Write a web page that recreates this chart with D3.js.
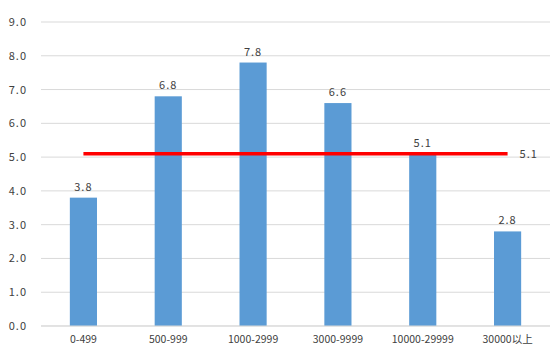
<!DOCTYPE html>
<html>
<head>
<meta charset="utf-8">
<script src="https://cdn.jsdelivr.net/npm/d3@7"></script>
<style>
  body { margin: 0; background: #fff; }
  text { font-family: "Noto Sans CJK SC", "Noto Sans", sans-serif; fill: #404040; }
</style>
</head>
<body>
<div id="svganchor"></div>
<script>
let width = 554;
let height = 352;
let margin = { top: 22, right: 4, bottom: 26, left: 41 };

// data
let categories = ["0-499", "500-999", "1000-2999", "3000-9999", "10000-29999", "30000以上"];
let values = [3.8, 6.8, 7.8, 6.6, 5.1, 2.8];
let avgValue = 5.1;
let yTicks = [0, 1, 2, 3, 4, 5, 6, 7, 8, 9];

let svg = d3.select("#svganchor").append("svg").attr("width", width).attr("height", height);

let xScale = d3.scaleBand()
  .domain(categories)
  .range([margin.left, width - margin.right])
  .paddingInner(0.68)
  .paddingOuter(0.34);

let yScale = d3.scaleLinear().domain([0, 9]).range([height - margin.bottom, margin.top]);

// gridlines
svg.append("g")
  .selectAll("line")
  .data(yTicks)
  .enter()
  .append("line")
  .attr("x1", margin.left)
  .attr("x2", width - margin.right)
  .attr("y1", d => yScale(d))
  .attr("y2", d => yScale(d))
  .attr("stroke", "#d9d9d9")
  .attr("stroke-width", 1);

// y axis labels
let yAxis = d3.axisLeft(yScale).tickValues(yTicks).tickFormat(d3.format(".1f")).tickSize(0).tickPadding(14);
let gy = svg.append("g").attr("transform", "translate(" + margin.left + ",0)").call(yAxis);
gy.select(".domain").remove();
gy.selectAll("text").style("font-size", "11px").attr("letter-spacing", "1px").attr("fill", "#404040");

// bars
svg.selectAll(".bar")
  .data(values)
  .enter()
  .append("rect")
  .attr("class", "bar")
  .attr("x", (d, i) => xScale(categories[i]))
  .attr("y", d => yScale(d))
  .attr("width", xScale.bandwidth())
  .attr("height", d => yScale(0) - yScale(d))
  .attr("fill", "#5b9bd5");

// bar labels
svg.selectAll(".bar-label")
  .data(values)
  .enter()
  .append("text")
  .attr("class", "bar-label")
  .attr("x", (d, i) => xScale(categories[i]) + xScale.bandwidth() / 2)
  .attr("y", d => yScale(d) - 7)
  .attr("text-anchor", "middle")
  .attr("letter-spacing", "1px")
  .style("font-size", "11px")
  .text(d => d.toFixed(1));

// x axis
let xAxis = d3.axisBottom(xScale).tickSize(0).tickPadding(10);
let gx = svg.append("g").attr("transform", "translate(0," + yScale(0) + ")").call(xAxis);
gx.select(".domain").attr("stroke", "#d9d9d9").attr("d", "M" + margin.left + ",0H" + (width - margin.right));
gx.selectAll("text").style("font-size", "10.5px").attr("fill", "#404040");

// average line
let firstC = xScale(categories[0]) + xScale.bandwidth() / 2;
let lastC = xScale(categories[categories.length - 1]) + xScale.bandwidth() / 2;
svg.append("line")
  .attr("x1", firstC)
  .attr("x2", lastC)
  .attr("y1", yScale(avgValue))
  .attr("y2", yScale(avgValue))
  .attr("stroke", "#ff0000")
  .attr("stroke-width", 3.5);

svg.append("text")
  .attr("x", lastC + 12)
  .attr("y", yScale(avgValue) + 4)
  .attr("letter-spacing", "1px")
  .style("font-size", "11px")
  .text(avgValue.toFixed(1));
</script>
</body>
</html>
